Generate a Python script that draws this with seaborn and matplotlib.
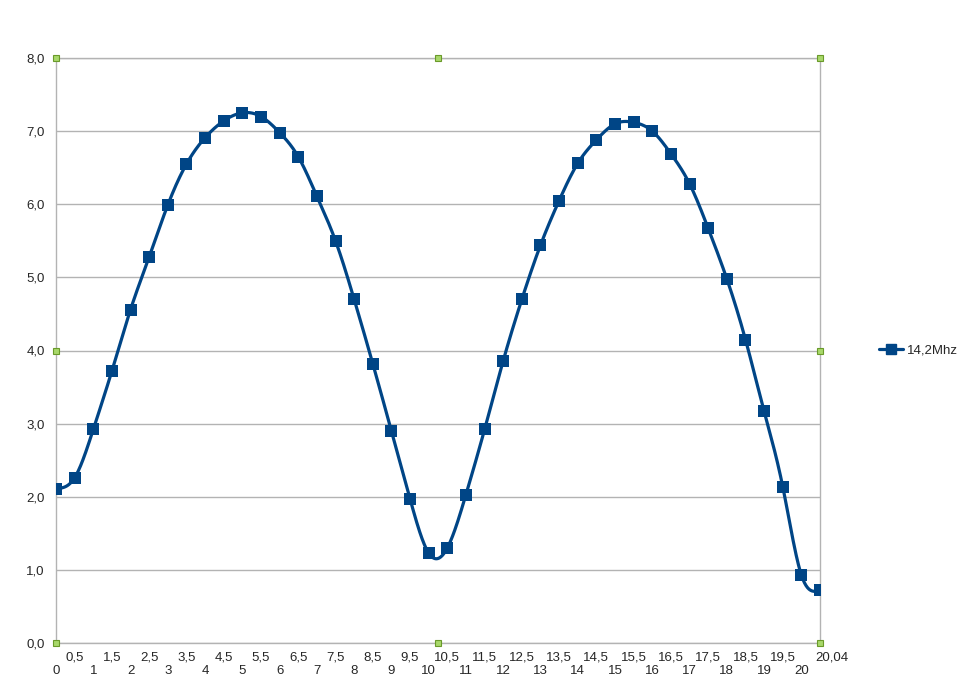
import numpy as np
import pandas as pd
import seaborn as sns
import matplotlib.pyplot as plt
import matplotlib.transforms as mtransforms
from matplotlib.lines import Line2D

# x categories as printed on the axis
x_labels = ["0", "0,5", "1", "1,5", "2", "2,5", "3", "3,5", "4", "4,5",
            "5", "5,5", "6", "6,5", "7", "7,5", "8", "8,5", "9", "9,5",
            "10", "10,5", "11", "11,5", "12", "12,5", "13", "13,5", "14", "14,5",
            "15", "15,5", "16", "16,5", "17", "17,5", "18", "18,5", "19", "19,5",
            "20", "20,04"]
# series values
y_values = [2.11, 2.26, 2.92, 3.72, 4.56, 5.28, 5.99, 6.55, 6.91, 7.14,
            7.25, 7.20, 6.98, 6.65, 6.11, 5.50, 4.70, 3.82, 2.90, 1.97,
            1.23, 1.30, 2.03, 2.92, 3.86, 4.70, 5.44, 6.05, 6.56, 6.88,
            7.10, 7.12, 7.00, 6.69, 6.28, 5.67, 4.98, 4.15, 3.17, 2.14,
            0.93, 0.72]
series_name = "14,2Mhz"
y_ticks = [0, 1, 2, 3, 4, 5, 6, 7, 8]

color = "#004586"
grid_c = "#b3b3b3"

df = pd.DataFrame({"pos": np.arange(len(x_labels)), "value": y_values})


def natural_spline(x, y, n=25):
    # cubic spline through the points, like the smoothed line in the chart
    x = np.asarray(x, float)
    y = np.asarray(y, float)
    m = len(x)
    h = np.diff(x)
    A = np.zeros((m, m))
    b = np.zeros(m)
    A[0, 0] = A[-1, -1] = 1
    for i in range(1, m - 1):
        A[i, i - 1] = h[i - 1]
        A[i, i] = 2 * (h[i - 1] + h[i])
        A[i, i + 1] = h[i]
        b[i] = 6 * ((y[i + 1] - y[i]) / h[i] - (y[i] - y[i - 1]) / h[i - 1])
    M = np.linalg.solve(A, b)
    xs, ys = [], []
    for i in range(m - 1):
        t = np.linspace(x[i], x[i + 1], n, endpoint=(i == m - 2))
        a = x[i + 1] - t
        c = t - x[i]
        s = (M[i] * a ** 3 + M[i + 1] * c ** 3) / (6 * h[i]) \
            + (y[i] / h[i] - M[i] * h[i] / 6) * a \
            + (y[i + 1] / h[i] - M[i + 1] * h[i] / 6) * c
        xs.append(t)
        ys.append(s)
    return pd.DataFrame({"pos": np.concatenate(xs), "value": np.concatenate(ys)})


smooth = natural_spline(df["pos"], df["value"])

sns.set_style("white")
plt.rcParams["font.family"] = ["Liberation Sans", "DejaVu Sans"]

fig = plt.figure(figsize=(9.6, 6.88), dpi=100)
ax = fig.add_axes([56 / 960, 45 / 688, 764 / 960, 585 / 688])

sns.lineplot(data=smooth, x="pos", y="value", ax=ax, color=color,
             linewidth=2.3, sort=False, estimator=None)
sns.scatterplot(data=df, x="pos", y="value", ax=ax, color=color,
                marker="s", s=85, edgecolor=color, linewidth=0, zorder=3)

ax.set_xlim(0, len(x_labels) - 1)
ax.set_ylim(0, 8)
ax.set_xlabel("")
ax.set_ylabel("")

ax.set_yticks(y_ticks)
ax.set_yticklabels([f"{v:.1f}".replace(".", ",") for v in y_ticks], fontsize=9.5)
ax.set_xticks(df["pos"])
ax.set_xticklabels([lab if i % 2 else "\n" + lab for i, lab in enumerate(x_labels)],
                   fontsize=9.5, linespacing=1.15)
ax.tick_params(axis="x", direction="out", length=4, color=grid_c, pad=2)
ax.tick_params(axis="y", direction="out", length=0, pad=8)

# last label sits to the right of its tick, as in the original
last = ax.get_xticklabels()[-1]
last.set_horizontalalignment("left")
last.set_transform(last.get_transform() +
                   mtransforms.ScaledTranslation(-5 / 100, 0, fig.dpi_scale_trans))

ax.yaxis.grid(True, color=grid_c, linewidth=1)
ax.xaxis.grid(False)
for side in ["left", "right", "bottom", "top"]:
    ax.spines[side].set_color(grid_c)
    ax.spines[side].set_linewidth(1)

# selection handles around the plot area
ax.plot([0, 0.5, 1, 0, 1, 0, 0.5, 1], [1, 1, 1, 0.5, 0.5, 0, 0, 0], "s",
        transform=ax.transAxes, clip_on=False, ms=5, mfc="#a8d86a",
        mec="#6a9a2a", mew=0.8, zorder=5)

handle = Line2D([], [], color=color, linewidth=2.3, marker="s", markersize=7)
fig.legend([handle], [series_name], loc="center left",
           bbox_to_anchor=(0.916, 1 - 350 / 688), frameon=False,
           fontsize=9.5, handlelength=1.8, handletextpad=0.3,
           borderaxespad=0, borderpad=0)

fig.savefig("out.png", dpi=100)
